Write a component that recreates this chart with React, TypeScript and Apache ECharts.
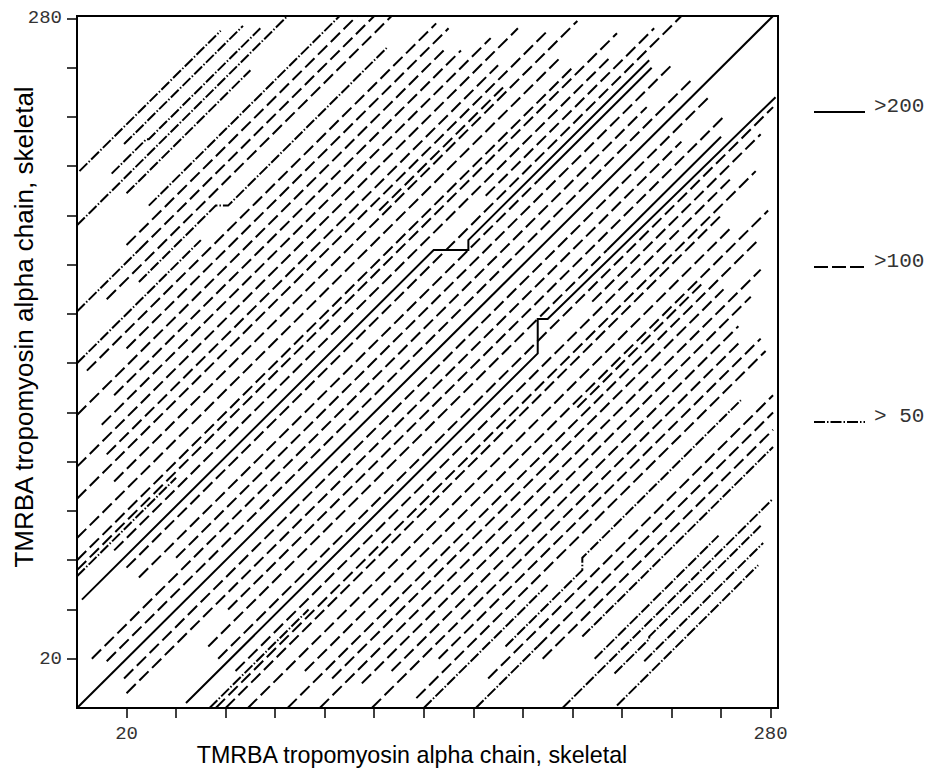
import React, { useEffect, useRef } from "react";
import * as echarts from "echarts";

const AXIS_TITLE = "TMRBA tropomyosin alpha chain, skeletal";
const X_MAX = 283;
const Y_MAX = 281;
const TICK_VALUES = [20, 40, 60, 80, 100, 120, 140, 160, 180, 200, 220, 240, 260, 280];
const TICK_LABELS = [20, 280];
const LEGEND_LABELS = [">200", ">100", "> 50"];

// Dot-plot segments: polylines as flat lists [x0, y0, x1, y1, ...] (residue numbers)
// score > 200
const solidUpper: number[][] = [
  [0, 0, 281, 281],
  [2, 44, 144, 186, 158, 186, 158, 190, 231, 263],
  [186, 214, 232, 260],
];
const solidLower: number[][] = [
  [44, 2, 186, 144, 186, 158, 190, 158, 282, 248],
  [214, 186, 260, 232],
];
// score > 100
const dashedUpper: number[][] = [
  [20, 188, 113, 281],
  [25, 186, 120, 281],
  [12, 166, 127, 281],
  [4, 137, 145, 278],
  [20, 146, 150, 276],
  [0, 119, 148, 267],
  [15, 127, 155, 267],
  [10, 115, 167, 272],
  [0, 98, 178, 276],
  [12, 103, 170, 261],
  [0, 85, 190, 275],
  [15, 92, 202, 279],
  [122, 202, 172, 252],
  [0, 69, 195, 264],
  [0, 60, 200, 260],
  [0, 56, 218, 274],
  [15, 64, 215, 264],
  [165, 208, 233, 276],
  [20, 57, 244, 281],
  [25, 53, 186, 214],
  [40, 61, 240, 261],
  [6, 20, 230, 244],
  [12, 19, 249, 256],
];
const dashedLower: number[][] = [
  [188, 20, 281, 113],
  [186, 25, 281, 120],
  [166, 12, 281, 127],
  [137, 4, 278, 145],
  [146, 20, 276, 150],
  [119, 0, 267, 148],
  [127, 15, 267, 155],
  [115, 10, 272, 167],
  [98, 0, 276, 178],
  [103, 12, 261, 170],
  [85, 0, 275, 190],
  [92, 15, 279, 202],
  [202, 122, 252, 172],
  [69, 0, 264, 195],
  [60, 0, 260, 200],
  [56, 0, 274, 218],
  [64, 15, 264, 215],
  [208, 165, 276, 233],
  [57, 20, 281, 244],
  [53, 25, 214, 186],
  [61, 40, 261, 240],
  [20, 6, 244, 230],
  [19, 12, 256, 249],
];
// score > 50
const dashDotUpper: number[][] = [
  [1, 218, 58, 275],
  [19, 229, 67, 277],
  [14, 217, 28, 231, 29, 231, 74, 276],
  [0, 196, 85, 281],
  [20, 209, 70, 259],
  [29, 204, 106, 281],
  [0, 161, 25, 186],
  [0, 140, 50, 190],
  [25, 173, 56, 204, 61, 204, 125, 268],
  [0, 53.5, 40, 93.5],
];
const dashDotLower: number[][] = [
  [218, 1, 275, 58],
  [229, 19, 277, 67],
  [217, 14, 231, 28, 231, 29, 276, 74],
  [196, 0, 281, 85],
  [209, 20, 259, 70],
  [204, 29, 281, 106],
  [161, 0, 186, 25],
  [140, 0, 190, 50],
  [173, 25, 204, 56, 204, 61, 268, 125],
  [53.5, 0, 93.5, 40],
];

const toLines = (arr: number[][]) =>
  arr.map((p) => {
    const coords: number[][] = [];
    for (let i = 0; i < p.length; i += 2) coords.push([p[i], p[i + 1]]);
    return { coords };
  });

const DASH = [13, 5];
const DASHDOT = [11, 2, 1.5, 2];
const LW = 2;

export default function App() {
  const ref = useRef<HTMLDivElement>(null);
  useEffect(() => {
    document.body.style.margin = "0";
    const chart = echarts.init(ref.current!, undefined, { renderer: "svg" });
    const tickFont = { fontFamily: "Liberation Mono", fontSize: 19, color: "#333" };
    const mk = (data: number[][], type: any) => ({
      type: "lines",
      coordinateSystem: "cartesian2d",
      polyline: true,
      silent: true,
      data: toLines(data),
      lineStyle: { color: "#000", width: LW, type, opacity: 1, cap: "butt" },
    });
    chart.setOption({
      animation: false,
      backgroundColor: "#fff",
      grid: { left: 77, top: 16, width: 701, height: 692, show: true, borderColor: "#000", borderWidth: 2, backgroundColor: "transparent" },
      xAxis: {
        type: "value",
        min: 0,
        max: X_MAX,
        interval: 20,
        splitLine: { show: false },
        axisLine: { show: false },
        axisTick: { show: true, length: 10, inside: false, customValues: TICK_VALUES, lineStyle: { color: "#000", width: 1.5 } },
        axisLabel: { ...tickFont, margin: 16, customValues: TICK_LABELS, formatter: (v: number) => (TICK_LABELS.includes(v) ? String(v) : "") },
      },
      yAxis: {
        type: "value",
        min: 0,
        max: Y_MAX,
        interval: 20,
        splitLine: { show: false },
        axisLine: { show: false },
        axisTick: { show: true, length: 10, inside: false, customValues: TICK_VALUES, lineStyle: { color: "#000", width: 1.5 } },
        axisLabel: { ...tickFont, margin: 15, customValues: TICK_LABELS, formatter: (v: number) => (TICK_LABELS.includes(v) ? String(v) : "") },
      },
      series: [
        mk([...solidUpper, ...solidLower], "solid"),
        mk([...dashedUpper, ...dashedLower], DASH),
        mk([...dashDotUpper, ...dashDotLower], DASHDOT),
      ],
      graphic: [
        { type: "text", x: 412, y: 755, scaleX: 0.97, style: { text: AXIS_TITLE, font: '24px "Liberation Sans"', fill: "#000", textAlign: "center", textVerticalAlign: "middle" } },
        { type: "text", x: 24, y: 327, rotation: Math.PI / 2, style: { text: AXIS_TITLE, font: '26px "Liberation Sans"', fill: "#000", textAlign: "center", textVerticalAlign: "middle" } },
        { type: "line", shape: { x1: 814, y1: 112, x2: 865, y2: 112 }, style: { stroke: "#000", lineWidth: LW } },
        { type: "line", shape: { x1: 814, y1: 267, x2: 865, y2: 267 }, style: { stroke: "#000", lineWidth: LW, lineDash: [14, 4] } },
        { type: "line", shape: { x1: 814, y1: 422, x2: 865, y2: 422 }, style: { stroke: "#000", lineWidth: LW, lineDash: DASHDOT } },
        { type: "text", x: 874, y: 106, style: { text: LEGEND_LABELS[0], font: '21px "Liberation Mono"', fill: "#333", textVerticalAlign: "middle" } },
        { type: "text", x: 874, y: 261, style: { text: LEGEND_LABELS[1], font: '21px "Liberation Mono"', fill: "#333", textVerticalAlign: "middle" } },
        { type: "text", x: 874, y: 416, style: { text: LEGEND_LABELS[2], font: '21px "Liberation Mono"', fill: "#333", textVerticalAlign: "middle" } },
      ],
    });
    return () => chart.dispose();
  }, []);
  return <div ref={ref} style={{ width: 932, height: 774 }} />;
}
